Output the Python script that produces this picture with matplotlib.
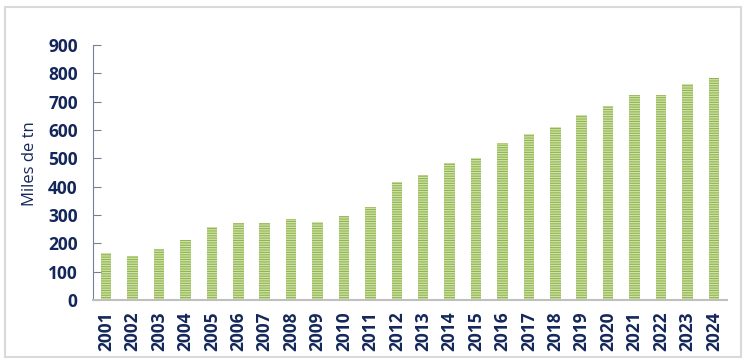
import matplotlib
matplotlib.use("Agg")
import matplotlib.pyplot as plt
from matplotlib.patches import Rectangle

years = [str(y) for y in range(2001, 2025)]
values = [167, 155, 181, 213, 258, 273, 273, 286, 276, 296, 328, 418, 442, 484,
          501, 553, 586, 611, 653, 685, 724, 724, 762, 784]
yticks = [0, 100, 200, 300, 400, 500, 600, 700, 800, 900]

plt.rcParams['font.family'] = ['Open Sans', 'DejaVu Sans']
plt.rcParams['hatch.linewidth'] = 0.9

W, H = 748, 362
fig = plt.figure(figsize=(W / 100, H / 100), dpi=100)
ax = fig.add_axes([93 / W, 1 - 300 / H, (727 - 93) / W, (300 - 45) / H])

navy = '#14275a'
x = list(range(len(years)))
ax.bar(x, values, width=0.4, color='#92b64f', hatch='-------',
       edgecolor='#cfe2aa', linewidth=0)

ax.set_xlim(-0.5, len(years) - 0.5)
ax.set_ylim(0, 900)
ax.set_yticks(yticks)
ax.set_yticklabels([str(v) for v in yticks], fontsize=12.5, fontweight='bold', color=navy)
ax.set_xticks(x)
ax.set_xticklabels(years, rotation=90, fontsize=12.5, fontweight='bold', color=navy)
ax.tick_params(axis='x', length=0, pad=8)
ax.tick_params(axis='y', direction='in', length=6, width=0.8, color='#6f8299', pad=11)
for s in ['top', 'right']:
    ax.spines[s].set_visible(False)
ax.spines['left'].set_color('#6f8299')
ax.spines['left'].set_linewidth(0.8)
ax.spines['bottom'].set_color('#bfbfbf')
ax.spines['bottom'].set_linewidth(1.5)
ax.set_ylabel('Miles de tn', fontsize=12, color=navy)
ax.yaxis.set_label_coords(-0.086, 0.535)

fig.patches.append(Rectangle((5 / W, 1 - 357 / H), (741 - 5) / W, (357 - 7) / H,
                             transform=fig.transFigure, fill=False,
                             edgecolor='#d9d9d9', linewidth=1.5))

fig.savefig('out.png', dpi=100)
